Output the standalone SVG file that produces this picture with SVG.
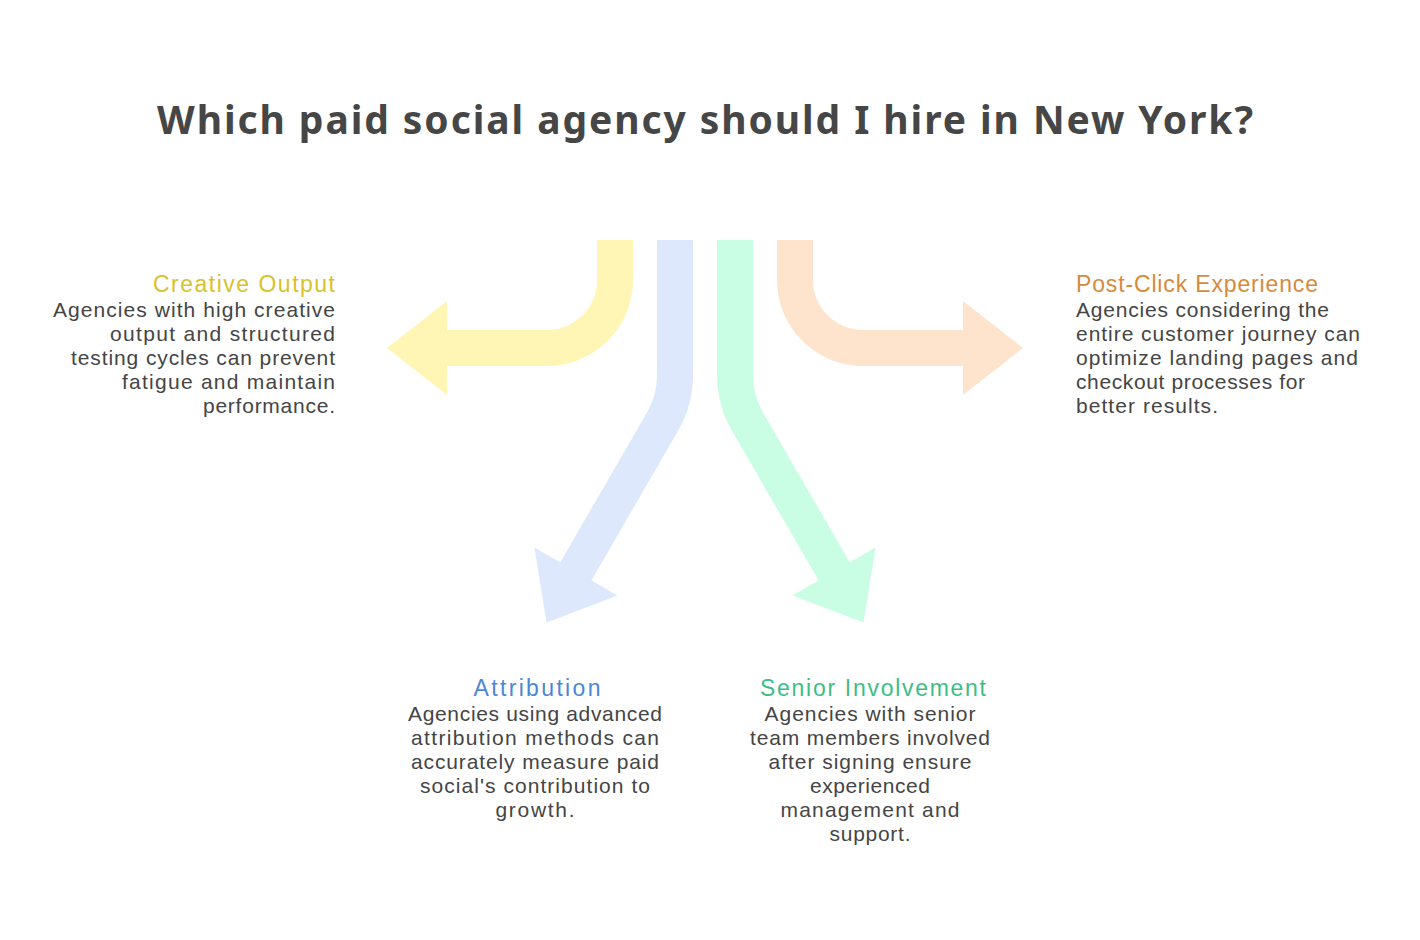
<svg xmlns="http://www.w3.org/2000/svg" width="1420" height="940" viewBox="0 0 1420 940">
<style>
.title{font-family:"Noto Sans","Liberation Sans",sans-serif;font-size:39px;font-weight:bold;fill:#464646}
.head{font-family:"Liberation Sans",Arial,sans-serif;font-size:23px}
.body{font-family:"Liberation Sans",Arial,sans-serif;font-size:21px;fill:#454545}
.shaft{fill:none;stroke-width:36;stroke-linecap:butt;stroke-linejoin:round}
</style>
<rect width="1420" height="940" fill="#ffffff"/>
<text class="title" x="705" y="134" text-anchor="middle" textLength="1096">Which paid social agency should I hire in New York?</text>
<g id="connectors">
<g id="arrow-creative">
<path class="shaft" stroke="#FFF6B5" d="M615,240 V280 A68,68 0 0 1 547,348 H440"/>
<polygon fill="#FFF6B5" points="447,301 387,348 447,395"/>
</g>
<g id="arrow-attribution">
<path class="shaft" stroke="#DDE8FC" d="M675,240 V375 Q675,400 662.5,421.65 L572,578"/>
<polygon fill="#DDE8FC" points="534.4,547.5 546.5,622.6 617.6,595.5"/>
</g>
<g id="arrow-senior">
<path class="shaft" stroke="#C9FDE4" d="M735,240 V375 Q735,400 747.5,421.65 L838,578"/>
<polygon fill="#C9FDE4" points="875.6,547.5 863.5,622.6 792.4,595.5"/>
</g>
<g id="arrow-postclick">
<path class="shaft" stroke="#FEE4CC" d="M795,240 V280 A68,68 0 0 0 863,348 H970"/>
<polygon fill="#FEE4CC" points="963,301 1023,348 963,395"/>
</g>
</g>
<g id="node-creative" text-anchor="end">
<text class="head" x="335" y="292" fill="#D9C22B" textLength="182">Creative Output</text>
<text class="body" x="335" y="317" textLength="282">Agencies with high creative</text>
<text class="body" x="335" y="341" textLength="225">output and structured</text>
<text class="body" x="335" y="365" textLength="264">testing cycles can prevent</text>
<text class="body" x="335" y="389" textLength="213">fatigue and maintain</text>
<text class="body" x="335" y="413" textLength="132">performance.</text>
</g>
<g id="node-postclick" text-anchor="start">
<text class="head" x="1076" y="292" fill="#D68B3C" textLength="242">Post-Click Experience</text>
<text class="body" x="1076" y="317" textLength="253">Agencies considering the</text>
<text class="body" x="1076" y="341" textLength="284">entire customer journey can</text>
<text class="body" x="1076" y="365" textLength="282">optimize landing pages and</text>
<text class="body" x="1076" y="389" textLength="229">checkout processes for</text>
<text class="body" x="1076" y="413" textLength="142">better results.</text>
</g>
<g id="node-attribution" text-anchor="middle">
<text class="head" x="537" y="696" fill="#4D86D6" textLength="127">Attribution</text>
<text class="body" x="535" y="721" textLength="254">Agencies using advanced</text>
<text class="body" x="535" y="745" textLength="248">attribution methods can</text>
<text class="body" x="535" y="769" textLength="248">accurately measure paid</text>
<text class="body" x="535" y="793" textLength="230">social's contribution to</text>
<text class="body" x="535" y="817" textLength="79">growth.</text>
</g>
<g id="node-senior" text-anchor="middle">
<text class="head" x="873" y="696" fill="#3DBE85" textLength="226">Senior Involvement</text>
<text class="body" x="870" y="721" textLength="211">Agencies with senior</text>
<text class="body" x="870" y="745" textLength="240">team members involved</text>
<text class="body" x="870" y="769" textLength="203">after signing ensure</text>
<text class="body" x="870" y="793" textLength="120">experienced</text>
<text class="body" x="870" y="817" textLength="179">management and</text>
<text class="body" x="870" y="841" textLength="81">support.</text>
</g>
</svg>
